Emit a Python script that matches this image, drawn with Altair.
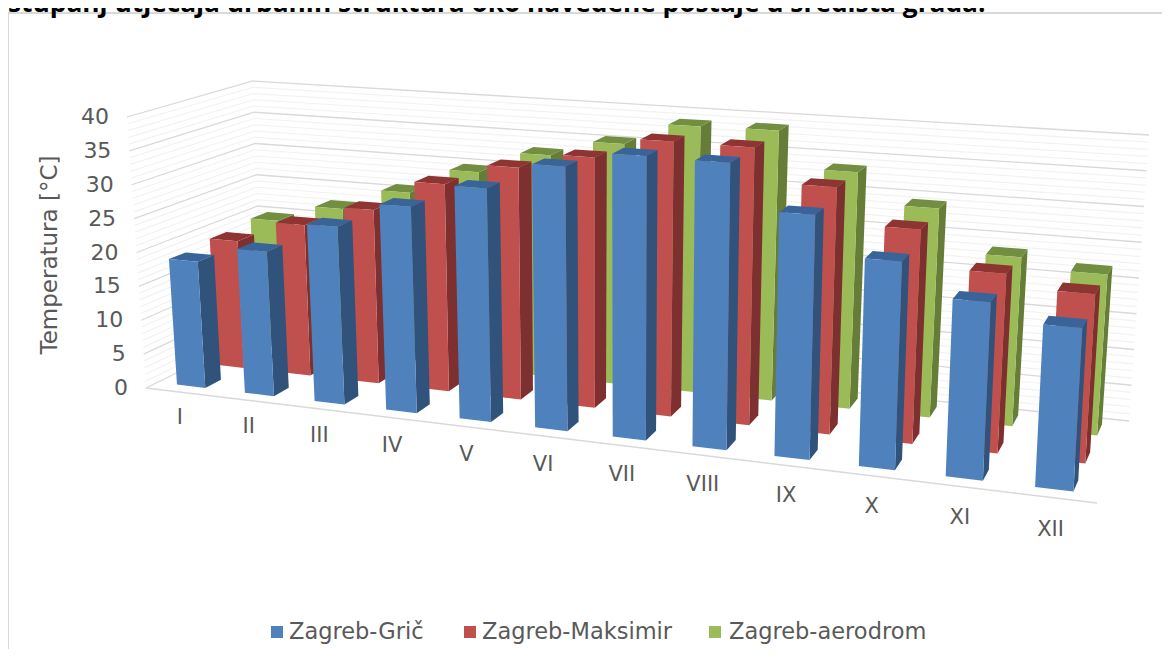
import altair as alt

months = ["I", "II", "III", "IV", "V", "VI", "VII", "VIII", "IX", "X", "XI", "XII"]
gric = [18.6, 21.0, 25.5, 29.2, 32.6, 36.4, 38.6, 38.4, 32.3, 27.1, 22.8, 20.6]
maksimir = [19.2, 22.5, 25.6, 30.2, 33.4, 35.6, 38.6, 38.5, 33.8, 28.9, 23.9, 22.2]
aerodrom = [19.8, 22.5, 25.8, 29.7, 33.0, 35.4, 38.7, 38.8, 33.6, 29.3, 23.4, 22.0]
series_names = ["Zagreb-Grič", "Zagreb-Maksimir", "Zagreb-aerodrom"]
series_values = [gric, maksimir, aerodrom]
front_col = ["#4F81BD", "#C0504D", "#9BBB59"]
side_col = ["#30527B", "#7E2F2F", "#667D38"]
top_col = ["#38649A", "#8E3432", "#728E41"]
axis_ticks = [0, 5, 10, 15, 20, 25, 30, 35, 40]
title_text = "stupanj utjecaja urbanih struktura oko navedene postaje u središta grada."
axis_title = "Temperatura [°C]"

# Corners of the 3D box as seen on the page: (front/back, left/right, floor/top)
FLB, FLT = (146, 388), (127, 117)
FRB, FRT = (1097, 503), (1115, 180)
BLB, BLT = (262, 331), (253, 81)
BRB, BRT = (1129, 421), (1149, 135)
R = 1.18


def tpos(u):
    return u / (R * (12 - u) + u)


def project(u, w, v):
    t, h = tpos(u), v / 40.0
    out = []
    for k in (0, 1):
        fb = FLB[k] * (1 - t) + FRB[k] * t
        ft = FLT[k] * (1 - t) + FRT[k] * t
        bb = BLB[k] * (1 - t) + BRB[k] * t
        bt = BLT[k] * (1 - t) + BRT[k] * t
        f = fb * (1 - h) + ft * h
        b = bb * (1 - h) + bt * h
        out.append(f * (1 - w) + b * w)
    return out


def poly(points, color):
    ring = points + [points[0]]
    return {"type": "Feature", "properties": {"c": color},
            "geometry": {"type": "Polygon", "coordinates": [ring]}}


def line(points, color, width):
    return {"type": "Feature", "properties": {"c": color, "s": width},
            "geometry": {"type": "LineString", "coordinates": points}}


U_IN, DEPTH0, DEPTH, STEP = 0.29, 0.10, 0.14, 0.345
faces = []
for s in (2, 1, 0):
    for i, val in enumerate(series_values[s]):
        u0, u1 = i + U_IN, i + 1 - U_IN
        w0, w1 = DEPTH0 + s * STEP, DEPTH0 + s * STEP + DEPTH
        faces.append(poly([project(u1, w0, 0), project(u1, w1, 0), project(u1, w1, val), project(u1, w0, val)], side_col[s]))
        faces.append(poly([project(u0, w0, val), project(u1, w0, val), project(u1, w1, val), project(u0, w1, val)], top_col[s]))
        faces.append(poly([project(u0, w0, 0), project(u1, w0, 0), project(u1, w0, val), project(u0, w0, val)], front_col[s]))

MAJOR, MINOR = "#D9D9D9", "#F2F2F2"
grid = []
for v in [x for x in range(41) if x % 5] + axis_ticks:
    c, sw = (MAJOR, 1.3) if v % 5 == 0 else (MINOR, 1.2)
    grid.append(line([project(0, 0, v), project(0, 1, v), project(12, 1, v)], c, sw))
grid.append(line([project(0, 0, 0), project(12, 0, 0)], MAJOR, 1.6))

frame = [line([[8, 649], [8, 13], [1162, 13]], "#D9D9D9", 2)]

texts = []
for v in axis_ticks:
    p = project(0, 0, v)
    texts.append({"lon": p[0] - 18, "lat": p[1], "t": str(v)})
month_labels = []
for i, m in enumerate(months):
    p = project(i + 0.5, 0, 0)
    month_labels.append({"lon": p[0], "lat": p[1] + 26 + 7 * tpos(i + 0.5), "t": m})

legend_sq = [{"lon": x, "lat": 632, "c": c} for x, c in zip([277, 470, 715], front_col)]
legend_tx = [{"lon": x, "lat": 632, "t": t} for x, t in zip([289, 482, 729], series_names)]

proj = alt.Projection(type="identity", scale=1, translate=[-8, -8])
FONT, GREY = "DejaVu Sans", "#595959"


def geo(values, mark):
    return alt.Chart(alt.Data(values=values)).mark_geoshape(**mark).project(**proj.to_dict())


grid_l = geo(grid + frame, dict(filled=False)).encode(
    stroke=alt.Color("properties.c:N", scale=None),
    strokeWidth=alt.StrokeWidth("properties.s:Q", scale=None),
)
bars_l = geo(faces, dict(strokeWidth=0)).encode(fill=alt.Color("properties.c:N", scale=None))


def txt(values, **mark):
    return alt.Chart(alt.Data(values=values)).mark_text(font=FONT, color=GREY, **mark).encode(
        longitude="lon:Q", latitude="lat:Q", text="t:N"
    ).project(**proj.to_dict())


y_l = txt(texts, align="right", fontSize=22)
m_l = txt(month_labels, align="center", fontSize=21)
t_l = txt([{"lon": 50, "lat": 255, "t": axis_title}], angle=270, align="center", fontSize=23)
lg_t = txt(legend_tx, align="left", fontSize=22.5)
lg_s = alt.Chart(alt.Data(values=legend_sq)).mark_point(shape="square", filled=True, size=144, opacity=1).encode(
    longitude="lon:Q", latitude="lat:Q", fill=alt.Color("c:N", scale=None)
).project(**proj.to_dict())
head = alt.Chart(alt.Data(values=[{"lon": 8, "lat": 12, "t": title_text}])).mark_text(
    font="Open Sans", fontWeight="bold", fontSize=26.3, color="#000000", align="left", baseline="alphabetic"
).encode(longitude="lon:Q", latitude="lat:Q", text="t:N").project(**proj.to_dict())

chart = alt.layer(grid_l, bars_l, y_l, m_l, t_l, lg_s, lg_t, head).properties(
    width=1154, height=641, padding=0
).configure_view(stroke=None)

chart.save("out.html", embed_options={"renderer": "svg", "actions": False})
